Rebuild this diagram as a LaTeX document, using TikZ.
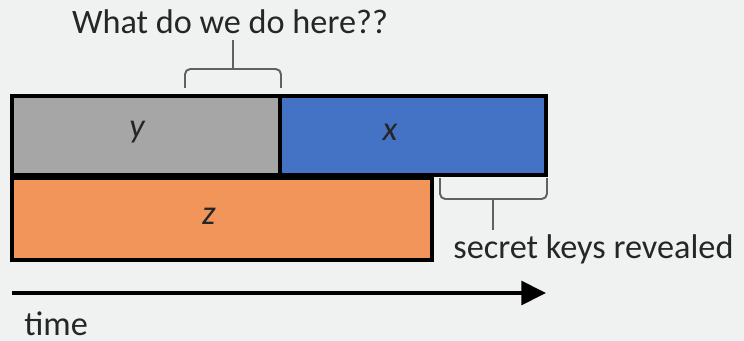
\documentclass[tikz,border=0pt]{standalone}
\usepackage{fontspec}
\setmainfont{Carlito}
\usetikzlibrary{positioning,arrows.meta}

\definecolor{bggray}{RGB}{240,241,241}
\definecolor{ygray}{RGB}{166,166,166}
\definecolor{xblue}{RGB}{68,114,196}
\definecolor{zorange}{RGB}{242,149,91}
\definecolor{txtgray}{RGB}{38,38,38}

\tikzset{
  block/.style={draw=black, line width=1.8pt, inner sep=0pt, minimum height=1.58cm},
  letter/.style={font=\fontsize{19.5}{23}\selectfont\itshape, text=txtgray, inner sep=0pt},
  caption/.style={font=\fontsize{19.5}{23}\selectfont, text=txtgray, inner sep=0pt},
  bracket/.style={draw=black!62, line width=1.1pt, rounded corners=3pt},
  timeline/.style={line width=2pt, -{Triangle[length=14pt, width=13.5pt]}}
}

\begin{document}
\begin{tikzpicture}[x=0.02cm, y=-0.02cm]
    % background
    \fill[bggray] (0,0) rectangle (744,341);
    \useasboundingbox (0,0) rectangle (744,341);

    % the three blocks
    \node[block, fill=ygray, minimum width=5.36cm] (y) at (146,135.5) {};
    \node[block, fill=xblue, minimum width=5.32cm] (x) at (413,135.5) {};
    \node[block, fill=zorange, minimum width=8.4cm, minimum height=1.64cm] (z) at (222,219) {};
    \node[letter] (ly) at (137,132) {y};
    \node[letter] (lx) at (390,132) {x};
    \node[letter] (lz) at (209,216) {z};

    % brace over the end of y
    \node[caption, anchor=base] (what) at (230,34) {What do we do here??};
    \coordinate (wtip) at (233,40);
    \draw[bracket] (185,88) -- (185,69) -- (281,69) -- (281,88);
    \draw[bracket] (233,69) -- (wtip);

    % brace under the end of x
    \node[caption, anchor=base west] (keys) at (453,258) {secret keys revealed};
    \coordinate (ktip) at (493,230);
    \draw[bracket] (440,178) -- (440,199) -- (547,199) -- (547,178);
    \draw[bracket] (493,199) -- (ktip);

    % time axis
    \coordinate (t0) at (12,293);
    \coordinate (t1) at (546,293);
    \draw[timeline] (t0) -- (t1);
    \node[caption, anchor=base west] (time) at (24,335) {time};
\end{tikzpicture}
\end{document}
